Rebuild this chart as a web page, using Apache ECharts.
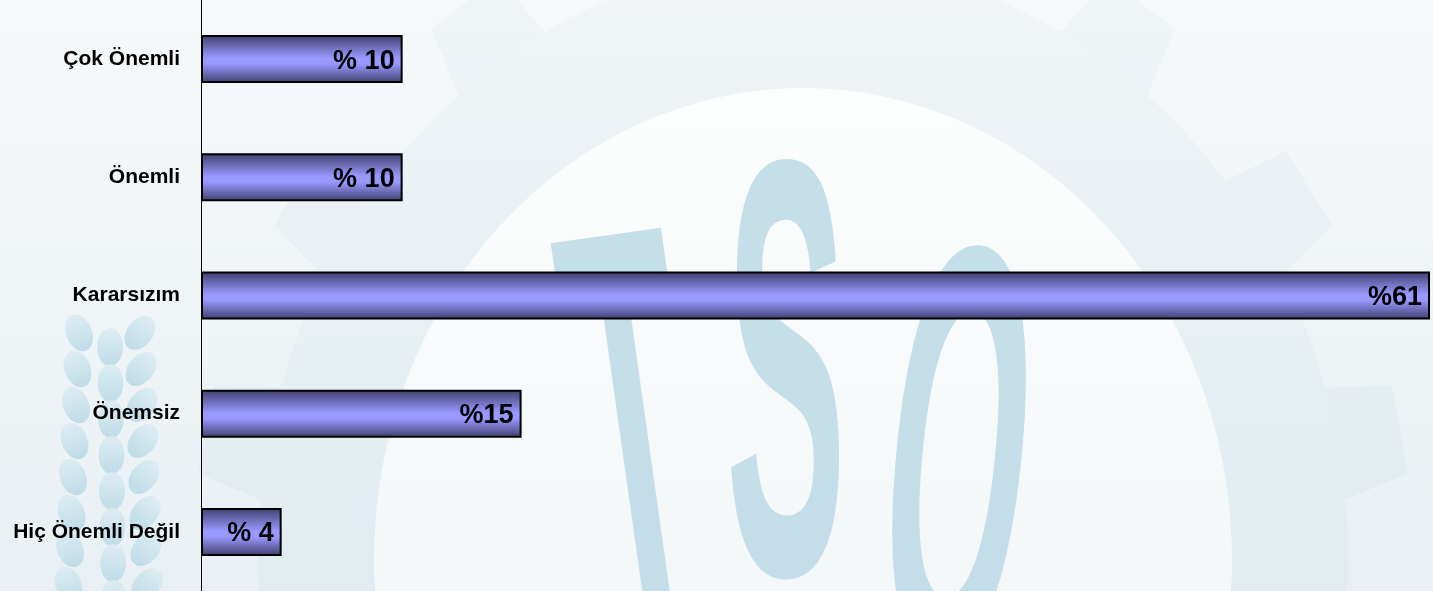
<!DOCTYPE html>
<html><head><meta charset="utf-8">
<script src="https://cdn.jsdelivr.net/npm/echarts@6/dist/echarts.min.js"></script>
<style>html,body{margin:0;padding:0;background:#f3f7f9}#c{width:1433px;height:591px}</style>
</head><body><div id="c"></div>
<script>
const categories = ['Çok Önemli', 'Önemli', 'Kararsızım', 'Önemsiz', 'Hiç Önemli Değil'];
const values = [10, 10, 61, 15.9, 4];
const valueLabels = ['% 10', '% 10', '%61', '%15', '% 4'];

const chart = echarts.init(document.getElementById('c'));

// ---- decorative watermark (gear, TSO letters, wheat ear) ----
function gearPoints(cx, cy, rIn, rOut, n, sy) {
  const pts = [];
  const step = Math.PI * 2 / n;
  for (let i = 0; i < n; i++) {
    const a = i * step - Math.PI / 2 + step / 2;
    const w = step * 0.2;
    const P = (r, t) => [cx + r * Math.cos(t), cy + r * sy * Math.sin(t)];
    pts.push(P(rIn, a - w * 1.25));
    pts.push(P(rOut, a - w * 0.85));
    pts.push(P(rOut, a + w * 0.85));
    pts.push(P(rIn, a + w * 1.25));
  }
  return pts;
}
const GX = 803, GY = 560, SY = 1.1;
const vgrad = (c1, c2) => ({type: 'linear', x: 0, y: 0, x2: 0, y2: 1, colorStops: [{offset: 0, color: c1}, {offset: 1, color: c2}]});

const leaves = [];
for (let i = 0; i < 8; i++) {
  const y = 333 + 36 * i;
  [[79 - i * 1.5, -22], [110 + i * 0.5, 0], [140 + i, 38]].forEach((c, k) => {
    const yy = y + (k === 1 ? 14 : 0);
    if (yy > 615) return;
    leaves.push({
      type: 'circle', z: -8, shape: {cx: 0, cy: 0, r: 19},
      x: c[0], y: yy, scaleX: 0.68, scaleY: 1.0, rotation: -c[1] * Math.PI / 180,
      style: {fill: vgrad('rgba(218,236,242,0.85)', 'rgba(182,216,229,0.85)')}
    });
  });
}

const letterStyle = (t) => ({text: t, font: 'bold 180px "Liberation Sans", Arial', fill: 'rgba(176,212,225,0.72)', textAlign: 'center', textVerticalAlign: 'middle'});

chart.setOption({
  backgroundColor: vgrad('#f6f9fa', '#e9f0f3'),
  graphic: [
    {type: 'polygon', z: -10, shape: {points: gearPoints(GX, GY, 540, 610, 16, SY)},
     style: {fill: vgrad('#f2f6f8', '#cfe2ea')}},
    {type: 'circle', z: -10, shape: {cx: 0, cy: 0, r: 545}, x: GX, y: GY, scaleY: SY,
     style: {fill: vgrad('#f1f5f7', '#d2e4eb')}},
    {type: 'circle', z: -10, shape: {cx: 0, cy: 0, r: 429}, x: GX, y: GY, scaleY: SY,
     style: {fill: vgrad('#fcfdfd', '#ecf2f5')}},
    {type: 'text', z: -9, x: 640, y: 478, scaleX: 1.05, scaleY: 3.3, rotation: 0.14, style: letterStyle('T')},
    {type: 'text', z: -9, x: 786, y: 410, scaleX: 1.0, scaleY: 3.3, style: letterStyle('S')},
    {type: 'text', z: -9, x: 955, y: 495, scaleX: 1.0, scaleY: 3.3, rotation: -0.1, style: letterStyle('O')},
    ...leaves
  ],
  grid: {left: 201, right: 4, top: 0, bottom: 0, containLabel: false},
  xAxis: {type: 'value', min: 0, max: 60.9, show: false},
  yAxis: {
    type: 'category', data: categories, inverse: true,
    axisLine: {show: true, lineStyle: {color: '#000', width: 1}},
    axisTick: {show: false},
    axisLabel: {color: '#000', fontSize: 21, fontWeight: 'bold', fontFamily: '"Liberation Sans", Arial, sans-serif', margin: 21}
  },
  series: [{
    type: 'bar', data: values, barWidth: 48,
    itemStyle: {
      borderColor: '#000', borderWidth: 2,
      color: {type: 'linear', x: 0, y: 0, x2: 0, y2: 1, colorStops: [
        {offset: 0, color: '#3e3e6c'}, {offset: 0.48, color: '#9999ff'}, {offset: 0.6, color: '#9999ff'}, {offset: 1, color: '#3e3e6c'}
      ]}
    },
    label: {
      show: true, position: 'insideRight', distance: 8, offset: [0, 2],
      formatter: p => valueLabels[p.dataIndex],
      color: '#000', fontSize: 27, fontWeight: 'bold', fontFamily: '"Liberation Sans", Arial, sans-serif'
    },
    animation: false
  }],
  animation: false
});
</script></body></html>
